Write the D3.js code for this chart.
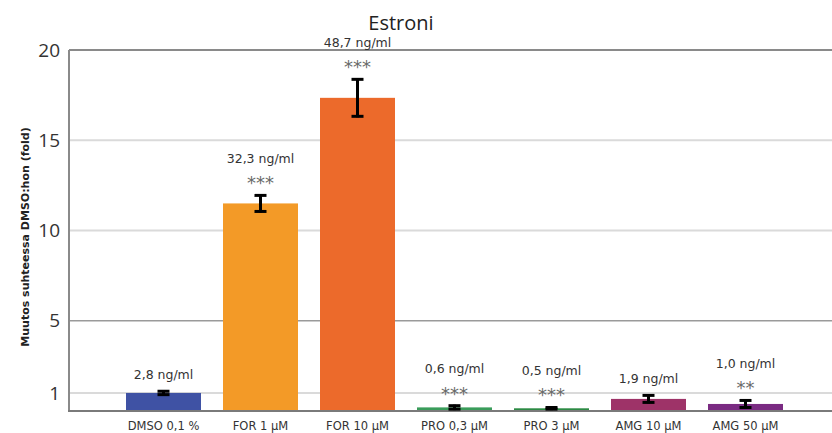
<!DOCTYPE html>
<html>
<head>
<meta charset="utf-8">
<script src="https://cdn.jsdelivr.net/npm/d3@7"></script>
<style>
  body { margin: 0; background: #fff; }
  svg { display: block; }
</style>
</head>
<body>
<script>
// data
var categories = ["DMSO 0,1 %", "FOR 1 µM", "FOR 10 µM", "PRO 0,3 µM", "PRO 3 µM", "AMG 10 µM", "AMG 50 µM"];
var values = [1.0, 11.5, 17.35, 0.2, 0.15, 0.67, 0.39];
var errors = [0.15, 0.5, 1.08, 0.15, 0.1, 0.25, 0.25];
var concLabels = ["2,8 ng/ml", "32,3 ng/ml", "48,7 ng/ml", "0,6 ng/ml", "0,5 ng/ml", "1,9 ng/ml", "1,0 ng/ml"];
var stars = ["", "***", "***", "***", "***", "", "**"];
var colors = ["#3f52a4", "#f39a27", "#ec6a2b", "#3a9c5a", "#2c8a44", "#9e3368", "#7a2b82"];
var yTicks = [1, 5, 10, 15, 20];

// note: "top" is taken by window.top, hence the plot* names
var w = 832, h = 433,
	plotLeft = 69, plotTop = 50, plotBottom = 411, plotRight = 840;

var data = categories.map(function(c, i) {
	return { cat: c, v: values[i], e: errors[i], label: concLabels[i], stars: stars[i], color: colors[i] };
});

var svg = d3.select('body').append('svg')
	.attr('width', w)
	.attr('height', h);

var x = d3.scaleBand()
	.domain(categories)
	.range([115, 115 + 97 * 7])
	.paddingInner(0.227)
	.paddingOuter(0.1135);

var y = d3.scaleLinear()
	.domain([0, 20])
	.range([plotBottom, plotTop]);

// gridlines
svg.selectAll('.grid')
	.data(yTicks)
	.enter().append('line')
		.attr('x1', plotLeft)
		.attr('x2', plotRight)
		.attr('y1', function(d) { return y(d); })
		.attr('y2', function(d) { return y(d); })
		.attr('stroke', function(d) { return d == 20 ? '#8a8a8a' : d == 5 ? '#9a9a9a' : '#dadada'; })
		.attr('stroke-width', function(d) { return d == 5 ? 1.5 : 2; });

// y tick labels
var yAxis = svg.append('g')
	.attr('transform', 'translate(' + (plotLeft - 6) + ',0)')
	.call(d3.axisLeft(y).tickValues(yTicks).tickSize(0).tickFormat(d3.format('d')));
yAxis.select('.domain').remove();
yAxis.selectAll('text')
	.attr('font-family', '"Open Sans", sans-serif')
	.attr('font-size', 19)
	.attr('fill', '#333');

// bars
svg.selectAll('.bar')
	.data(data)
	.enter().append('rect')
		.attr('x', function(d) { return x(d.cat); })
		.attr('width', x.bandwidth())
		.attr('y', function(d) { return y(d.v); })
		.attr('height', function(d) { return y(0) - y(d.v); })
		.attr('fill', function(d) { return d.color; });

// axes lines
svg.append('line')
	.attr('x1', plotLeft).attr('x2', plotLeft)
	.attr('y1', plotTop).attr('y2', plotBottom)
	.attr('stroke', '#8a8a8a').attr('stroke-width', 2);
svg.append('line')
	.attr('x1', plotLeft - 1).attr('x2', plotRight)
	.attr('y1', plotBottom).attr('y2', plotBottom)
	.attr('stroke', '#7a7a7a').attr('stroke-width', 2);

// error bars
var eb = svg.selectAll('.err')
	.data(data)
	.enter().append('g')
		.attr('transform', function(d) { return 'translate(' + (x(d.cat) + x.bandwidth() / 2) + ',0)'; })
		.attr('stroke', '#000')
		.attr('stroke-width', 3);
eb.append('line')
	.attr('y1', function(d) { return y(d.v + d.e); })
	.attr('y2', function(d) { return y(Math.max(0, d.v - d.e)); });
eb.append('line')
	.attr('x1', -6).attr('x2', 6)
	.attr('y1', function(d) { return y(d.v + d.e) + 1; })
	.attr('y2', function(d) { return y(d.v + d.e) + 1; });
eb.append('line')
	.attr('x1', -6).attr('x2', 6)
	.attr('y1', function(d) { return y(Math.max(0, d.v - d.e)) - 1; })
	.attr('y2', function(d) { return y(Math.max(0, d.v - d.e)) - 1; });

// star + concentration labels
function starY(d) { return y(d.v + d.e) - 16; }
function labelY(d) { return d.stars ? starY(d) - 20 : y(d.v + d.e) - 16; }

svg.selectAll('.stars')
	.data(data.filter(function(d) { return d.stars; }))
	.enter().append('text')
		.attr('x', function(d) { return x(d.cat) + x.bandwidth() / 2; })
		.attr('y', function(d) { return starY(d) + 11; })
		.attr('text-anchor', 'middle')
		.attr('font-family', '"DejaVu Sans", sans-serif')
		.attr('font-size', 18)
		.attr('fill', '#6a6a6a')
		.text(function(d) { return d.stars; });

svg.selectAll('.conc')
	.data(data)
	.enter().append('text')
		.attr('x', function(d) { return x(d.cat) + x.bandwidth() / 2; })
		.attr('y', labelY)
		.attr('dy', '0.35em')
		.attr('text-anchor', 'middle')
		.attr('font-family', '"DejaVu Sans", sans-serif')
		.attr('font-size', 12.5)
		.attr('fill', '#333')
		.text(function(d) { return d.label; });

// x labels
var xAxis = svg.append('g')
	.attr('transform', 'translate(0,' + plotBottom + ')')
	.call(d3.axisBottom(x).tickSize(0).tickPadding(11));
xAxis.select('.domain').remove();
xAxis.selectAll('text')
	.attr('font-family', '"DejaVu Sans", sans-serif')
	.attr('font-size', 11.5)
	.attr('fill', '#333');

// titles
svg.append('text')
	.attr('x', 401)
	.attr('y', 30)
	.attr('text-anchor', 'middle')
	.attr('font-family', '"Open Sans", sans-serif')
	.attr('font-size', 20)
	.attr('fill', '#222')
	.text('Estroni');

svg.append('text')
	.attr('transform', 'translate(25,237)rotate(-90)')
	.attr('dy', '0.35em')
	.attr('text-anchor', 'middle')
	.attr('font-family', '"DejaVu Sans", sans-serif')
	.attr('font-weight', 'bold')
	.attr('font-size', 11)
	.attr('fill', '#222')
	.text('Muutos suhteessa DMSO:hon (fold)');
</script>
</body>
</html>
